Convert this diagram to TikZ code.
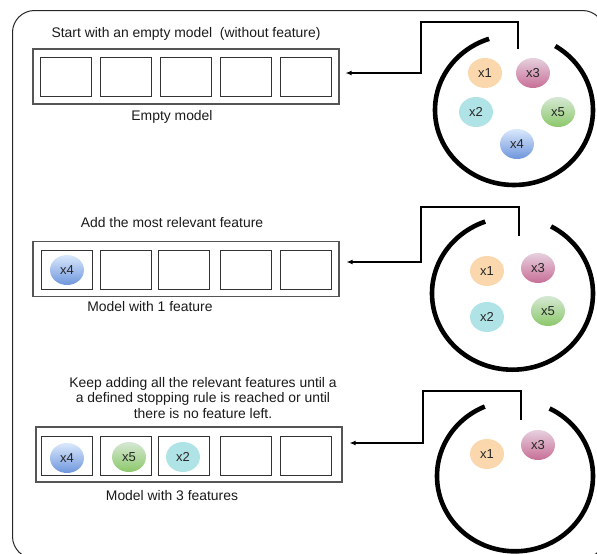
\documentclass[tikz,border=0pt]{standalone}
\usepackage{fontspec}
\setmainfont{Liberation Sans}
\usetikzlibrary{shapes.geometric,arrows.meta}
\definecolor{txt}{HTML}{1A1A1A}
\definecolor{boxgray}{HTML}{555555}
\tikzset{
  lbl/.style={font=\fontsize{13.9}{15.6}\selectfont, text=txt, inner sep=0pt, align=center},
  modelbox/.style={draw=boxgray, line width=1.1pt, minimum width=306pt, minimum height=55pt, inner sep=0pt},
  slot/.style={draw=black!80, line width=0.9pt, minimum width=51pt, minimum height=39pt, inner sep=0pt},
  feat/.style={ellipse, minimum width=34pt, minimum height=30pt, inner sep=0pt, font=\fontsize{13}{14}\selectfont, text=black!85},
  fx1/.style={feat, fill={rgb,255:red,250;green,215;blue,172}},
  fx2/.style={feat, fill={rgb,255:red,176;green,227;blue,230}},
  fx3/.style={feat, top color={rgb,255:red,230;green,208;blue,222}, bottom color={rgb,255:red,200;green,110;blue,150}},
  fx4/.style={feat, top color={rgb,255:red,218;green,232;blue,252}, bottom color={rgb,255:red,110;green,150;blue,220}},
  fx5/.style={feat, top color={rgb,255:red,213;green,232;blue,212}, bottom color={rgb,255:red,140;green,200;blue,105}},
  pool/.style={draw=black, line width=4.6pt, ellipse, inner sep=0pt},
  gapcut/.style={fill=white},
  conn/.style={draw=black, line width=1.3pt, -{Latex[length=6pt,width=5pt]}},
}
\begin{document}
\begin{tikzpicture}[x=1pt,y=-1pt]
\useasboundingbox (0,0) rectangle (597,554);
\clip (0,0) rectangle (597,554);
\node[draw=black!85, line width=1pt, rounded corners=22pt, minimum width=592pt, minimum height=548pt, anchor=north west, inner sep=0pt] (frame) at (12,10) {};

% ---------- section 1 ----------
\node[lbl] (t1) at (186,34) {Start with an empty model\ \ (without feature)};
\node[modelbox] (m1) at (186,76.5) {};
\node[slot] (a1) at (65.5,76.5) {};
\node[slot] (a2) at (125.5,76.5) {};
\node[slot] (a3) at (185.5,76.5) {};
\node[slot] (a4) at (245.5,76.5) {};
\node[slot] (a5) at (305.5,76.5) {};
\node[lbl] (c1) at (172,117) {Empty model};

\node[pool, minimum width=158pt, minimum height=150pt] (p1) at (514,110) {};
\fill[gapcut] (p1.center) -- +(-31,-89) -- +(10,-92) -- +(54,-84) -- cycle;
\node[fx1] (e11) at (485,73) {x1};
\node[fx3] (e13) at (533,73) {x3};
\node[fx2] (e12) at (476,112) {x2};
\node[fx5] (e15) at (558,112) {x5};
\node[fx4] (e14) at (517,144) {x4};
\coordinate (s1) at (518,49);
\coordinate (k1) at (421,73);
\draw[conn] (s1) -- (518,22) -| (k1) -- ([xshift=6pt]m1.east |- k1);

% ---------- section 2 ----------
\node[lbl] (t2) at (172,223) {Add the most relevant feature};
\node[modelbox] (m2) at (186,269) {};
\node[slot] (b1) at (66.5,270) {};
\node[slot] (b2) at (125.5,270) {};
\node[slot] (b3) at (183.5,270) {};
\node[slot] (b4) at (245.5,270) {};
\node[slot] (b5) at (305.5,270) {};
\node[fx4] (q4) at (67,270) {x4};
\node[lbl] (c2) at (150,307) {Model with 1 feature};

\node[pool, minimum width=161pt, minimum height=152.6pt] (p2) at (512.5,293.4) {};
\fill[gapcut] (p2.center) -- +(-34,-90) -- +(8,-98) -- +(49,-85.5) -- cycle;
\node[fx1] (e21) at (487,271) {x1};
\node[fx3] (e23) at (538,268) {x3};
\node[fx2] (e22) at (487,317) {x2};
\node[fx5] (e25) at (548,311) {x5};
\coordinate (s2) at (519,236);
\coordinate (k2) at (421,262);
\draw[conn] (s2) -- (519,207) -| (k2) -- ([xshift=7pt]m2.east |- k2);

% ---------- section 3 ----------
\node[lbl] (t3) at (203,398) {Keep adding all the relevant features until a\\a defined stopping rule is reached or until\\there is no feature left.};
\node[modelbox] (m3) at (189,454.5) {};
\node[slot] (d1) at (66.5,456) {};
\node[slot] (d2) at (125.5,456) {};
\node[slot] (d3) at (183.5,456) {};
\node[slot] (d4) at (245.5,456) {};
\node[slot] (d5) at (305.5,456) {};
\node[fx4] (r4) at (67,458) {x4};
\node[fx5] (r5) at (129,457) {x5};
\node[fx2] (r2) at (183,457) {x2};
\node[lbl] (c3) at (172,496) {Model with 3 features};

\node[pool, minimum width=156pt, minimum height=150.6pt] (p3) at (515,476) {};
\fill[gapcut] (p3.center) -- +(-37.5,-86.6) -- +(4,-98) -- +(44.6,-87.5) -- cycle;
\node[fx1] (e31) at (487,454) {x1};
\node[fx3] (e33) at (538,445) {x3};
\coordinate (s3) at (521,420);
\coordinate (k3) at (423,443);
\draw[conn] (s3) -- (521,391) -| (k3) -- ([xshift=7pt]m3.east |- k3);
\end{tikzpicture}
\end{document}
